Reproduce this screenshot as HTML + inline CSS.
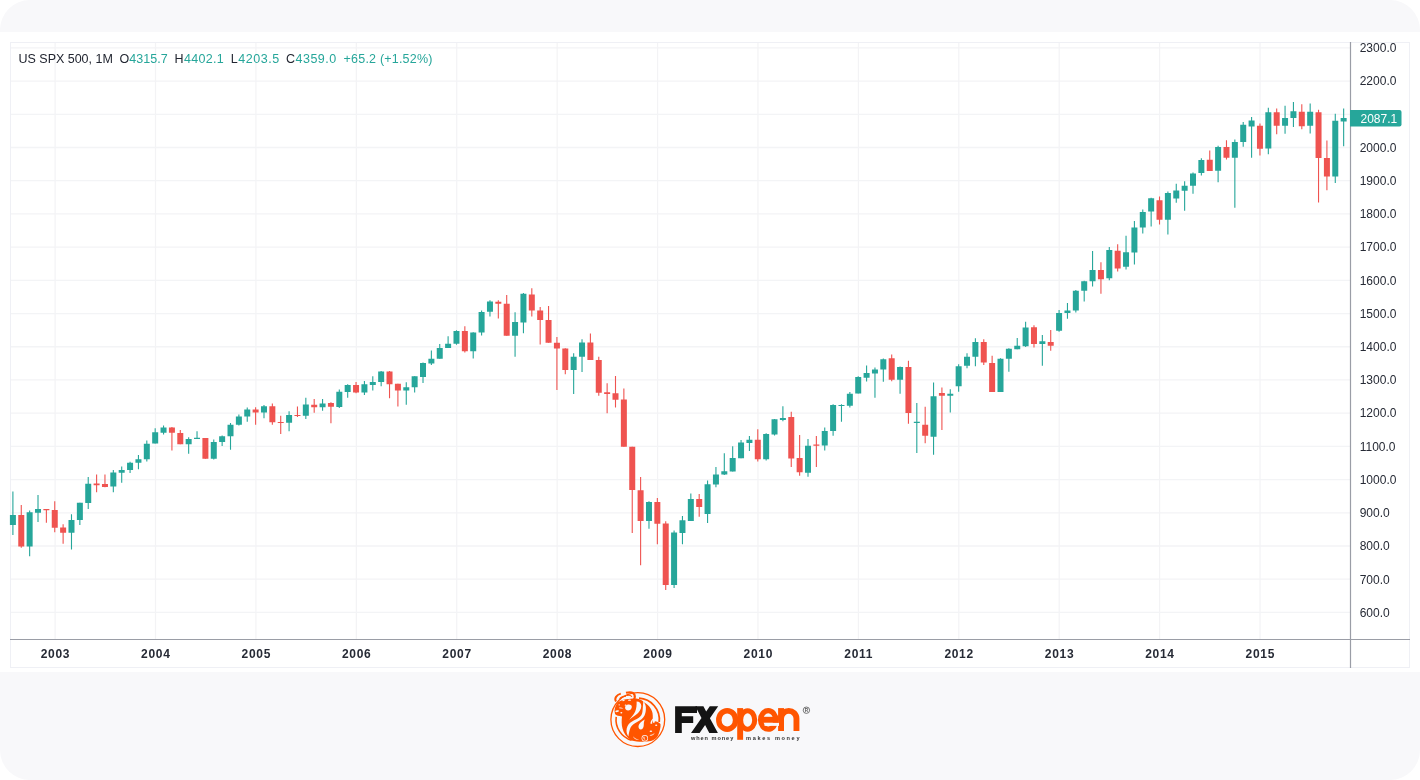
<!DOCTYPE html>
<html><head><meta charset="utf-8"><style>
html,body{margin:0;padding:0;background:#fff;width:1420px;height:780px;overflow:hidden}
.card{position:absolute;left:0;top:0;width:1420px;height:780px;border-radius:30px;background:#f8f8fa}
.white{position:absolute;left:0;top:32px;width:1420px;height:640px;background:#fff}
svg{position:absolute;left:0;top:0;will-change:transform}
text{font-family:"Liberation Sans",sans-serif}
</style></head><body>
<div class="card"></div>
<div class="white"></div>
<svg width="1420" height="780" viewBox="0 0 1420 780">
<path d="M55.10 42V639 M155.51 42V639 M255.92 42V639 M356.33 42V639 M456.74 42V639 M557.15 42V639 M657.56 42V639 M757.97 42V639 M858.38 42V639 M958.79 42V639 M1059.20 42V639 M1159.61 42V639 M1260.02 42V639" stroke="#f3f3f5" stroke-width="1.2" fill="none"/>
<path d="M10 612.40H1350 M10 579.20H1350 M10 545.99H1350 M10 512.78H1350 M10 479.58H1350 M10 446.37H1350 M10 413.17H1350 M10 379.96H1350 M10 346.75H1350 M10 313.55H1350 M10 280.34H1350 M10 247.14H1350 M10 213.93H1350 M10 180.72H1350 M10 147.52H1350 M10 114.31H1350 M10 81.11H1350 M10 47.90H1350" stroke="#f3f4f6" stroke-width="1.3" fill="none"/>
<rect x="10.5" y="42.5" width="1399" height="625" fill="none" stroke="#eff0f5" stroke-width="1"/>
<g fill="#26a69a"><path d="M12.35 491.50h1.1v43.40h-1.1z M29.09 510.50h1.1v45.70h-1.1z M37.46 495.10h1.1v26.90h-1.1z M70.94 514.20h1.1v35.30h-1.1z M79.31 502.80h1.1v22.10h-1.1z M87.68 476.90h1.1v32.00h-1.1z M112.78 469.90h1.1v22.40h-1.1z M121.15 466.40h1.1v16.30h-1.1z M129.52 461.80h1.1v11.30h-1.1z M137.89 455.10h1.1v14.10h-1.1z M146.26 440.40h1.1v21.10h-1.1z M154.63 428.20h1.1v15.40h-1.1z M163.00 425.60h1.1v9.00h-1.1z M188.11 437.20h1.1v16.60h-1.1z M196.48 431.20h1.1v7.90h-1.1z M213.22 439.50h1.1v19.90h-1.1z M221.59 435.60h1.1v10.30h-1.1z M229.96 423.10h1.1v26.60h-1.1z M238.33 414.50h1.1v10.90h-1.1z M246.70 407.40h1.1v14.40h-1.1z M263.44 405.10h1.1v13.20h-1.1z M288.54 411.30h1.1v19.90h-1.1z M305.28 397.80h1.1v21.20h-1.1z M322.02 399.00h1.1v11.80h-1.1z M338.76 389.40h1.1v18.50h-1.1z M347.13 384.20h1.1v13.50h-1.1z M363.87 381.00h1.1v13.90h-1.1z M372.24 376.20h1.1v14.40h-1.1z M380.61 371.00h1.1v15.20h-1.1z M405.72 382.30h1.1v22.40h-1.1z M414.09 376.20h1.1v16.40h-1.1z M422.46 362.40h1.1v20.60h-1.1z M430.82 350.50h1.1v14.40h-1.1z M439.19 344.10h1.1v14.70h-1.1z M447.56 336.20h1.1v11.80h-1.1z M455.93 330.30h1.1v14.40h-1.1z M472.67 332.30h1.1v26.20h-1.1z M481.04 310.50h1.1v24.90h-1.1z M489.41 300.30h1.1v16.20h-1.1z M514.52 312.30h1.1v44.40h-1.1z M522.89 293.10h1.1v40.10h-1.1z M573.11 353.20h1.1v40.80h-1.1z M581.48 339.20h1.1v32.70h-1.1z M648.43 501.20h1.1v27.50h-1.1z M673.54 530.50h1.1v57.40h-1.1z M681.91 516.00h1.1v28.20h-1.1z M690.28 493.40h1.1v27.50h-1.1z M707.02 480.60h1.1v42.40h-1.1z M715.39 466.90h1.1v20.30h-1.1z M723.76 453.20h1.1v21.80h-1.1z M732.13 446.20h1.1v25.30h-1.1z M740.50 440.00h1.1v18.30h-1.1z M748.87 435.90h1.1v15.10h-1.1z M765.61 433.30h1.1v27.20h-1.1z M773.97 419.00h1.1v16.60h-1.1z M782.34 406.20h1.1v15.00h-1.1z M807.45 439.00h1.1v37.80h-1.1z M824.19 427.40h1.1v23.10h-1.1z M832.56 404.30h1.1v31.40h-1.1z M840.93 404.30h1.1v17.50h-1.1z M849.30 392.00h1.1v15.40h-1.1z M857.67 376.20h1.1v17.30h-1.1z M866.04 365.40h1.1v16.10h-1.1z M874.41 367.40h1.1v30.30h-1.1z M882.78 358.50h1.1v23.30h-1.1z M899.52 366.50h1.1v27.30h-1.1z M916.26 403.00h1.1v50.00h-1.1z M933.00 382.50h1.1v72.20h-1.1z M949.73 389.20h1.1v23.30h-1.1z M958.10 364.20h1.1v27.50h-1.1z M966.47 353.30h1.1v15.00h-1.1z M974.84 338.30h1.1v28.00h-1.1z M999.95 358.30h1.1v33.70h-1.1z M1008.32 348.30h1.1v23.40h-1.1z M1016.69 338.10h1.1v11.10h-1.1z M1025.06 321.80h1.1v25.10h-1.1z M1041.80 335.10h1.1v30.70h-1.1z M1058.54 310.00h1.1v21.70h-1.1z M1066.91 303.10h1.1v15.70h-1.1z M1075.28 290.00h1.1v22.60h-1.1z M1083.65 280.80h1.1v20.70h-1.1z M1092.02 251.10h1.1v35.40h-1.1z M1108.75 246.90h1.1v33.40h-1.1z M1125.49 235.80h1.1v33.80h-1.1z M1133.86 221.10h1.1v43.40h-1.1z M1142.23 209.50h1.1v23.90h-1.1z M1150.60 197.70h1.1v28.90h-1.1z M1167.34 191.50h1.1v43.10h-1.1z M1175.71 183.80h1.1v19.00h-1.1z M1184.08 181.20h1.1v29.60h-1.1z M1192.45 172.60h1.1v21.20h-1.1z M1200.82 158.20h1.1v17.20h-1.1z M1217.56 145.70h1.1v36.60h-1.1z M1234.30 139.50h1.1v68.20h-1.1z M1242.67 122.10h1.1v24.70h-1.1z M1251.04 116.90h1.1v40.80h-1.1z M1267.78 107.70h1.1v46.60h-1.1z M1284.51 105.70h1.1v28.10h-1.1z M1292.88 102.00h1.1v24.90h-1.1z M1309.62 103.50h1.1v29.90h-1.1z M1334.73 113.80h1.1v69.30h-1.1z M1343.10 108.50h1.1v37.70h-1.1z"/><path d="M9.90 514.90h6v10.00h-6z M26.64 512.30h6v34.20h-6z M35.01 508.90h6v3.90h-6z M68.49 520.00h6v12.80h-6z M76.86 502.80h6v17.20h-6z M85.23 483.80h6v19.30h-6z M110.33 472.40h6v14.10h-6z M118.70 469.90h6v2.90h-6z M127.07 462.80h6v7.10h-6z M135.44 459.20h6v3.60h-6z M143.81 443.80h6v15.40h-6z M152.18 432.30h6v11.30h-6z M160.55 427.60h6v5.10h-6z M185.66 439.10h6v5.10h-6z M194.03 437.80h6v1.30h-6z M210.77 442.00h6v16.70h-6z M219.14 436.30h6v5.70h-6z M227.51 424.70h6v11.60h-6z M235.88 416.40h6v8.30h-6z M244.25 409.40h6v7.00h-6z M260.99 406.20h6v6.40h-6z M286.09 415.10h6v7.70h-6z M302.83 404.60h6v11.20h-6z M319.57 403.50h6v3.80h-6z M336.31 391.70h6v15.20h-6z M344.68 385.10h6v6.80h-6z M361.42 384.20h6v8.40h-6z M369.79 382.00h6v2.90h-6z M378.16 371.40h6v10.60h-6z M403.27 387.20h6v3.40h-6z M411.64 376.20h6v11.00h-6z M420.01 363.10h6v13.80h-6z M428.38 358.80h6v4.80h-6z M436.74 348.00h6v10.80h-6z M445.11 343.80h6v4.20h-6z M453.48 331.00h6v12.80h-6z M470.22 332.60h6v18.60h-6z M478.59 312.10h6v20.50h-6z M486.96 301.50h6v10.30h-6z M512.07 322.10h6v13.70h-6z M520.44 293.80h6v28.80h-6z M570.66 356.80h6v13.30h-6z M579.03 342.50h6v14.30h-6z M645.98 502.10h6v18.80h-6z M671.09 532.50h6v52.60h-6z M679.46 520.20h6v12.70h-6z M687.83 499.00h6v21.90h-6z M704.57 484.30h6v29.60h-6z M712.94 474.40h6v10.20h-6z M721.31 471.20h6v3.40h-6z M729.68 458.00h6v13.50h-6z M738.05 442.60h6v15.70h-6z M746.42 439.70h6v3.30h-6z M763.15 434.00h6v25.20h-6z M771.52 419.20h6v15.20h-6z M779.89 418.00h6v1.90h-6z M805.00 445.70h6v27.10h-6z M821.74 431.10h6v14.40h-6z M830.11 404.90h6v26.20h-6z M838.48 404.90h6v1.00h-6z M846.85 393.80h6v12.00h-6z M855.22 376.90h6v16.60h-6z M863.59 373.10h6v4.60h-6z M871.96 369.50h6v4.00h-6z M880.33 359.20h6v10.30h-6z M897.07 366.90h6v12.80h-6z M913.81 421.70h6v1.30h-6z M930.55 396.30h6v40.40h-6z M947.28 393.80h6v2.00h-6z M955.65 366.30h6v20.00h-6z M964.02 356.70h6v9.10h-6z M972.39 342.00h6v14.70h-6z M997.50 358.70h6v33.30h-6z M1005.87 348.80h6v9.90h-6z M1014.24 345.80h6v3.40h-6z M1022.61 327.40h6v18.80h-6z M1039.35 341.20h6v2.80h-6z M1056.09 313.10h6v17.60h-6z M1064.46 310.50h6v2.60h-6z M1072.83 290.80h6v19.70h-6z M1081.20 281.20h6v9.60h-6z M1089.57 270.00h6v11.20h-6z M1106.30 250.00h6v28.20h-6z M1123.04 252.20h6v14.60h-6z M1131.41 227.50h6v24.90h-6z M1139.78 212.00h6v15.50h-6z M1148.15 198.20h6v13.30h-6z M1164.89 193.10h6v26.60h-6z M1173.26 190.50h6v8.00h-6z M1181.63 185.80h6v5.00h-6z M1190.00 173.50h6v12.30h-6z M1198.37 160.00h6v13.10h-6z M1215.11 146.90h6v23.90h-6z M1231.85 142.00h6v15.80h-6z M1240.22 124.70h6v17.30h-6z M1248.59 120.50h6v6.10h-6z M1265.33 112.30h6v36.20h-6z M1282.06 118.00h6v7.70h-6z M1290.43 111.20h6v6.80h-6z M1307.17 111.80h6v13.90h-6z M1332.28 120.80h6v55.70h-6z M1340.65 118.00h6v3.50h-6z"/></g>
<g fill="#ef5350"><path d="M20.72 504.90h1.1v42.80h-1.1z M45.83 508.90h1.1v13.90h-1.1z M54.20 501.20h1.1v31.10h-1.1z M62.57 524.30h1.1v19.50h-1.1z M96.05 474.40h1.1v17.90h-1.1z M104.41 474.40h1.1v12.80h-1.1z M171.37 426.90h1.1v23.70h-1.1z M179.74 430.10h1.1v14.10h-1.1z M204.85 438.00h1.1v20.70h-1.1z M255.07 407.20h1.1v17.50h-1.1z M271.80 403.60h1.1v21.10h-1.1z M280.17 415.80h1.1v18.30h-1.1z M296.91 406.40h1.1v10.70h-1.1z M313.65 399.00h1.1v13.80h-1.1z M330.39 402.20h1.1v21.10h-1.1z M355.50 382.00h1.1v11.20h-1.1z M388.98 371.00h1.1v27.30h-1.1z M397.35 383.80h1.1v22.60h-1.1z M464.30 326.20h1.1v26.20h-1.1z M497.78 300.30h1.1v18.20h-1.1z M506.15 295.10h1.1v40.70h-1.1z M531.26 288.20h1.1v28.40h-1.1z M539.63 306.90h1.1v37.70h-1.1z M548.00 306.00h1.1v36.80h-1.1z M556.37 337.10h1.1v52.80h-1.1z M564.74 348.20h1.1v26.10h-1.1z M589.85 333.50h1.1v26.40h-1.1z M598.22 356.80h1.1v39.00h-1.1z M606.58 383.20h1.1v30.00h-1.1z M614.95 376.00h1.1v31.40h-1.1z M623.32 388.60h1.1v58.20h-1.1z M631.69 446.80h1.1v86.10h-1.1z M640.06 477.00h1.1v88.30h-1.1z M656.80 498.10h1.1v46.10h-1.1z M665.17 521.20h1.1v68.80h-1.1z M698.65 494.10h1.1v22.60h-1.1z M757.24 429.20h1.1v32.30h-1.1z M790.71 411.80h1.1v55.10h-1.1z M799.08 435.10h1.1v40.70h-1.1z M815.82 436.10h1.1v30.80h-1.1z M891.15 354.60h1.1v26.60h-1.1z M907.89 360.80h1.1v62.90h-1.1z M924.63 406.70h1.1v36.60h-1.1z M941.36 387.50h1.1v42.50h-1.1z M983.21 339.20h1.1v25.80h-1.1z M991.58 355.80h1.1v36.20h-1.1z M1033.43 325.20h1.1v22.40h-1.1z M1050.17 330.00h1.1v20.70h-1.1z M1100.39 262.30h1.1v31.50h-1.1z M1117.12 244.30h1.1v27.20h-1.1z M1158.97 196.60h1.1v28.00h-1.1z M1209.19 150.40h1.1v20.70h-1.1z M1225.93 140.20h1.1v19.20h-1.1z M1259.41 123.50h1.1v31.90h-1.1z M1276.14 108.50h1.1v25.80h-1.1z M1301.25 104.20h1.1v25.00h-1.1z M1317.99 109.70h1.1v92.90h-1.1z M1326.36 140.50h1.1v49.80h-1.1z"/><path d="M18.27 515.10h6v31.40h-6z M43.38 508.90h6v1.30h-6z M51.75 510.00h6v17.70h-6z M60.12 527.40h6v5.40h-6z M93.60 483.60h6v1.70h-6z M101.96 484.00h6v2.90h-6z M168.92 427.60h6v5.10h-6z M177.29 433.10h6v11.10h-6z M202.40 438.00h6v20.70h-6z M252.62 409.40h6v3.20h-6z M269.35 406.20h6v16.00h-6z M277.72 422.00h6v1.10h-6z M294.46 414.90h6v1.00h-6z M311.20 404.70h6v2.60h-6z M327.94 403.10h6v3.60h-6z M353.05 385.10h6v7.50h-6z M386.53 371.40h6v12.80h-6z M394.90 383.80h6v6.80h-6z M461.85 331.00h6v20.20h-6z M495.33 301.80h6v1.90h-6z M503.70 303.70h6v32.10h-6z M528.81 294.40h6v16.20h-6z M537.18 310.50h6v9.40h-6z M545.55 319.90h6v22.90h-6z M553.92 342.80h6v5.80h-6z M562.29 348.60h6v21.50h-6z M587.40 342.50h6v17.40h-6z M595.76 359.90h6v32.80h-6z M604.13 392.20h6v1.80h-6z M612.50 393.20h6v6.60h-6z M620.87 399.40h6v47.40h-6z M629.24 446.80h6v43.10h-6z M637.61 490.20h6v30.70h-6z M654.35 502.10h6v21.60h-6z M662.72 523.40h6v61.70h-6z M696.20 499.00h6v8.10h-6z M754.79 439.70h6v19.50h-6z M788.26 416.90h6v41.60h-6z M796.63 458.10h6v14.10h-6z M813.37 444.40h6v1.30h-6z M888.70 358.20h6v21.50h-6z M905.44 367.00h6v46.00h-6z M922.18 424.70h6v11.10h-6z M938.91 393.00h6v2.80h-6z M980.76 342.00h6v20.50h-6z M989.13 363.00h6v29.00h-6z M1030.98 327.30h6v16.70h-6z M1047.72 342.00h6v3.80h-6z M1097.94 270.00h6v9.20h-6z M1114.67 250.80h6v17.70h-6z M1156.52 200.30h6v19.40h-6z M1206.74 159.70h6v11.40h-6z M1223.48 146.90h6v10.90h-6z M1256.96 125.70h6v23.10h-6z M1273.69 112.30h6v13.40h-6z M1298.80 111.80h6v14.40h-6z M1315.54 112.30h6v45.70h-6z M1323.91 158.00h6v18.50h-6z"/></g>
<path d="M1350.5 42V668M10 639.5H1410" stroke="#9a9da6" stroke-width="1.2" fill="none"/>
<g font-size="12" font-weight="bold" fill="#262a35" letter-spacing="0.7"><text x="55.45" y="658" text-anchor="middle">2003</text><text x="155.86" y="658" text-anchor="middle">2004</text><text x="256.27" y="658" text-anchor="middle">2005</text><text x="356.68" y="658" text-anchor="middle">2006</text><text x="457.09" y="658" text-anchor="middle">2007</text><text x="557.50" y="658" text-anchor="middle">2008</text><text x="657.91" y="658" text-anchor="middle">2009</text><text x="758.32" y="658" text-anchor="middle">2010</text><text x="858.73" y="658" text-anchor="middle">2011</text><text x="959.14" y="658" text-anchor="middle">2012</text><text x="1059.55" y="658" text-anchor="middle">2013</text><text x="1159.96" y="658" text-anchor="middle">2014</text><text x="1260.37" y="658" text-anchor="middle">2015</text></g>
<g font-size="12" fill="#262a35"><text x="1359.7" y="616.70">600.0</text><text x="1359.7" y="583.50">700.0</text><text x="1359.7" y="550.29">800.0</text><text x="1359.7" y="517.08">900.0</text><text x="1359.7" y="483.88">1000.0</text><text x="1359.7" y="450.67">1100.0</text><text x="1359.7" y="417.47">1200.0</text><text x="1359.7" y="384.26">1300.0</text><text x="1359.7" y="351.05">1400.0</text><text x="1359.7" y="317.85">1500.0</text><text x="1359.7" y="284.64">1600.0</text><text x="1359.7" y="251.44">1700.0</text><text x="1359.7" y="218.23">1800.0</text><text x="1359.7" y="185.02">1900.0</text><text x="1359.7" y="151.82">2000.0</text><text x="1359.7" y="85.41">2200.0</text><text x="1359.7" y="52.20">2300.0</text></g>
<path d="M1350 110h49.5a2 2 0 0 1 2 2v12.5a2 2 0 0 1 -2 2h-49.5z" fill="#26a69a"/>
<text x="1360.5" y="122.8" font-size="12" fill="#fff">2087.1</text>
<g font-size="12.5" fill="#222631">
<text x="18.6" y="62.7" textLength="94.2" lengthAdjust="spacing">US SPX 500, 1M</text>
<text x="119.4" y="62.7" textLength="48.3" lengthAdjust="spacing">O<tspan fill="#26a69a">4315.7</tspan></text>
<text x="174.6" y="62.7" textLength="49" lengthAdjust="spacing">H<tspan fill="#26a69a">4402.1</tspan></text>
<text x="230.8" y="62.7" textLength="48.3" lengthAdjust="spacing">L<tspan fill="#26a69a">4203.5</tspan></text>
<text x="286" y="62.7" textLength="50.2" lengthAdjust="spacing">C<tspan fill="#26a69a">4359.0</tspan></text>
<text x="343.6" y="62.7" textLength="88.8" lengthAdjust="spacing" fill="#26a69a">+65.2 (+1.52%)</text>
</g>
<g transform="translate(608 690)">
<circle cx="29.8" cy="29.6" r="26.9" fill="none" stroke="#ff5500" stroke-width="1.3"/>
<path d="M31 8.2 A21.5 21.5 0 0 1 51.2 32" fill="none" stroke="#ff5500" stroke-width="1.8"/>
<path d="M8.2 26.9 A21.5 21.5 0 0 0 23.5 50.3" fill="none" stroke="#ff5500" stroke-width="1.6"/>
<!-- unified orange body -->
<path fill="#ff5500" d="M6.5 21 C6.5 18 8 14.5 10 12 C14 9.5 21 8.5 28 8.5 C32 8.6 35 11 35.5 12 C40 14.5 43.5 18 44.5 23 C45 26.5 44.8 29 44.5 31 C48 31 51 32 52.5 34 C53 37 51.5 42 50 45.5 C49 48 46.5 50 43 51 C37 52.2 29 52 23.5 50.5 C18.5 47.5 15.5 43 14.5 38.5 C13.5 35 13.5 30 14 26.5 C11 26 8 25.5 7 24 Z"/>
<!-- horns -->
<path d="M8 11.5 C6 8.5 8.5 4.8 12.8 3.6" fill="none" stroke="#ff5500" stroke-width="2"/>
<path d="M11.5 9.5 C12.5 7.5 15 6.3 18 6" fill="none" stroke="#ff5500" stroke-width="1.3"/>
<path d="M18 2.8 C22 1.8 25.5 2.2 26.6 5 C27.3 7.5 26.2 9.5 24.8 10.5" fill="none" stroke="#ff5500" stroke-width="2.1"/>
<path d="M19 5.5 C21 5 23 5.3 23.8 6.8" fill="none" stroke="#ff5500" stroke-width="1.2"/>
<g fill="#f8f8fa">
<!-- band 1 -->
<path d="M28.6 11.5 C31.5 11.5 33.3 13.5 33.3 16 C33.3 19.5 31 22.5 28 24.8 C25.8 26.5 23.2 28.2 21.2 29.8 C23.5 27 25.8 24.5 27.2 21.5 C28.4 18.5 28.8 15 28.6 11.5 Z"/>
<!-- band 2 -->
<path d="M35.4 11.2 C36.8 13 37.8 15 37.9 17.5 C38 20.5 37.5 23.5 36.5 25.5 C35 28.5 32.5 30.2 29.5 31.8 C26.5 33.3 24 34.8 22.6 37.5 C21.4 40 20.9 43 20.4 46.5 C19.2 44.5 18.4 42.5 18.5 40.5 C18.6 37.5 20 34.5 22.5 32.6 C25 30.7 28.3 29.5 30.8 27.8 C33 26.2 34 24.5 34.4 22 C34.8 19 34.9 15 35.4 11.2 Z"/>
<!-- bull face marks -->
<path d="M17.4 16.2 C18.5 14.4 21.5 14 23.2 15.2 C24.4 16.2 23.8 18.6 22.4 19.8 C21 21 18.8 20.8 17.8 19.6 C17 18.6 16.9 17.2 17.4 16.2 Z"/>
<ellipse cx="9.2" cy="21.2" rx="1.9" ry="0.9" transform="rotate(-12 9.2 21.2)"/>
<ellipse cx="13.3" cy="22.7" rx="1" ry="0.8"/>
<ellipse cx="11.2" cy="14.8" rx="0.7" ry="0.6"/>
<ellipse cx="17.7" cy="15.2" rx="1" ry="0.6"/>
<path d="M11.2 17.6 C12.5 17.2 14 17.4 15.5 18.6 C14 18.4 12.5 18.4 11.2 18.2 Z"/>
<ellipse cx="15.5" cy="10.5" rx="1.3" ry="0.6" transform="rotate(-10 15.5 10.5)"/>
<ellipse cx="21.5" cy="10.2" rx="1.5" ry="0.6"/>
<!-- teardrop -->
<path d="M36.8 29.6 C34 31 31 33.5 30.5 36 C30.2 38 31.5 39.6 33 39.5 C35 39.3 35.8 37 35.8 34.5 C35.8 32.5 36.2 31 36.8 29.6 Z"/>
<!-- bear marks -->
<path d="M42.5 33.8 C42.3 31.5 43.5 29.2 45.5 28.4 C44.5 30 44 32 44.2 33.8 Z"/>
<ellipse cx="45.8" cy="31.5" rx="1" ry="1.4"/>
<ellipse cx="48.2" cy="35.2" rx="1.1" ry="0.8"/>
<ellipse cx="42.9" cy="41.3" rx="1.3" ry="0.8"/>
<path d="M41.8 45 C43.5 45 45.5 44.3 46.5 42.8 C46.2 44.8 44.2 46 41.8 45.6 Z"/>
<circle cx="36.8" cy="48.2" r="3.2"/>
<path d="M25 46.2 C26.5 48.2 28.5 49.2 31 49.4 C28.5 50.2 26 49.2 25 46.2 Z"/>
</g>
<circle cx="36.8" cy="48.2" r="2.5" fill="#ff5500"/>
<path d="M35.5 46.8 C35 48.3 35.8 49.6 37.5 49.8 C36.6 49.2 36.2 48 36.5 46.8 Z" fill="#f8f8fa"/>
</g>
<path fill="#141414" d="M675.1 706.2H697V712.9H681.8V716.2H693.2V722.9H681.8V733.1H675.1Z"/>
<path fill="#141414" d="M695.3 706.2H703.4L706.2 711.4L709.8 706.2H718.2L709.9 718.2L717.9 733.1H709.3L705.1 725.1L699.6 733.1H691L701.5 718.1Z"/>
<g fill="none" stroke="#ff5500">
<ellipse cx="727.2" cy="719.95" rx="8.4" ry="9.25" stroke-width="5.5"/>
<ellipse cx="747.6" cy="719.95" rx="7.1" ry="9.25" stroke-width="5.1"/>
<ellipse cx="768.2" cy="719.95" rx="7.6" ry="9.25" stroke-width="5.3"/>
<path d="M762 719.8H778.1" stroke-width="6"/>
<path d="M781.05 731V718.5 A7.7 7.6 0 0 1 796.45 718.5V731" stroke-width="5.9"/>
</g>
<rect x="737.2" y="708.1" width="5.9" height="31.7" fill="#ff5500"/>
<rect x="778.1" y="708.1" width="5.9" height="12" fill="#ff5500"/>
<rect x="764.5" y="722.9" width="14.5" height="3" fill="#f8f8fa"/>
<circle cx="806.4" cy="710.2" r="3.2" fill="none" stroke="#555" stroke-width="0.8"/>
<text x="806.4" y="712.1" font-size="4.6" text-anchor="middle" fill="#555" font-family="Liberation Sans" font-weight="bold">R</text>
<g font-family="Liberation Sans" font-weight="bold" font-size="5.6" fill="#333">
<text x="690.9" y="740.3" textLength="42.4" lengthAdjust="spacing">when money</text>
<text x="746.1" y="740.3" textLength="53.4" lengthAdjust="spacing">makes money</text>
</g>

</svg>
</body></html>
